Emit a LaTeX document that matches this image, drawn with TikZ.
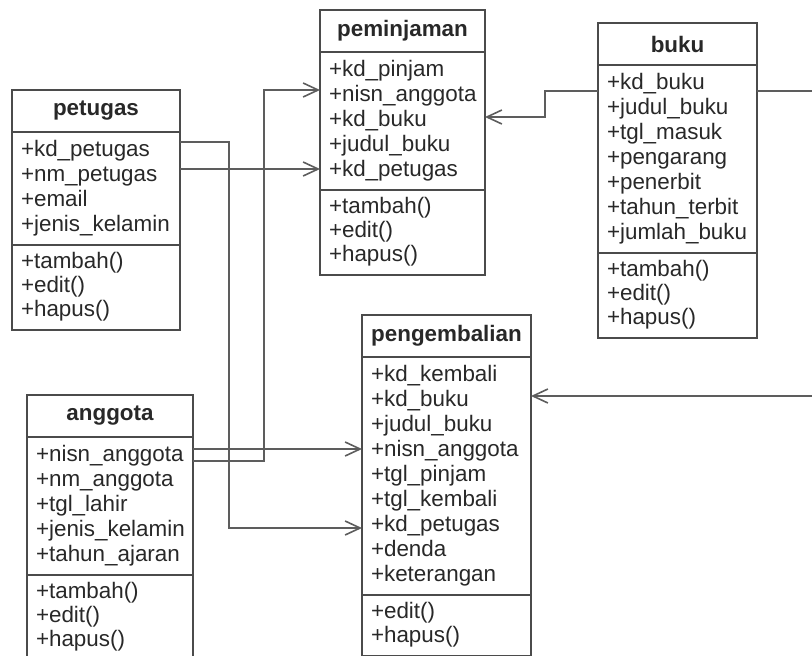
\documentclass[tikz,border=0pt]{standalone}
\usepackage{fontspec}
\setmainfont{Liberation Sans}
\usetikzlibrary{arrows.meta,calc}

\definecolor{umlline}{RGB}{75,75,75}
\definecolor{umltext}{RGB}{40,40,40}

\tikzset{
  clsbox/.style={draw=umlline,line width=1.9pt,outer sep=0pt,text=umltext,inner xsep=9pt,
    font=\fontsize{22.4}{25}\selectfont},
  clstitle/.style={clsbox,minimum height=42pt,inner ysep=0pt,font=\fontsize{22.4}{25}\selectfont\bfseries},
  clsbody/.style={clsbox,inner ysep=6.5pt,align=left,
    execute at begin node=\strut,execute at end node=\strut},
  clsops/.style={clsbody,font=\fontsize{22.4}{24}\selectfont},
  assoc/.style={draw=umlline!90,line width=1.8pt,
    -{Straight Barb[length=15pt,width=14pt,line width=1.6pt]}},
}

% class box: name, position, width, title, attributes, operations
\newcommand{\umlclass}[6]{%
  \node[clstitle,minimum width=#3,anchor=north west] (#1) at (#2) {#4};
  \node[clsbody,minimum width=#3,text width=#3-18pt,anchor=north] (#1-attr) at (#1.south) {#5};
  \node[clsops,minimum width=#3,text width=#3-18pt,anchor=north] (#1-ops) at (#1-attr.south) {#6};
}

\begin{document}
\begin{tikzpicture}[x=1pt,y=-1pt]
    \useasboundingbox (0,0) rectangle (812,656);
    \umlclass{petugas}{12,90}{168pt}{petugas}
      {+kd\_petugas\\+nm\_petugas\\+email\\+jenis\_kelamin}
      {+tambah()\\+edit()\\+hapus()}
    \umlclass{peminjaman}{320,10}{165pt}{peminjaman}
      {+kd\_pinjam\\+nisn\_anggota\\+kd\_buku\\+judul\_buku\\+kd\_petugas}
      {+tambah()\\+edit()\\+hapus()}
    \umlclass{buku}{598,23}{159pt}{buku}
      {+kd\_buku\\+judul\_buku\\+tgl\_masuk\\+pengarang\\+penerbit\\+tahun\_terbit\\+jumlah\_buku}
      {+tambah()\\+edit()\\+hapus()}
    \umlclass{anggota}{27,395}{166pt}{anggota}
      {+nisn\_anggota\\+nm\_anggota\\+tgl\_lahir\\+jenis\_kelamin\\+tahun\_ajaran}
      {+tambah()\\+edit()\\+hapus()}
    \umlclass{pengembalian}{362,315}{169pt}{pengembalian}
      {+kd\_kembali\\+kd\_buku\\+judul\_buku\\+nisn\_anggota\\+tgl\_pinjam\\+tgl\_kembali\\+kd\_petugas\\+denda\\+keterangan}
      {+edit()\\+hapus()}
    % ends of the connectors
    \coordinate (ptg1) at ([yshift=-10pt]petugas-attr.north east);
    \coordinate (ptg2) at ([yshift=-37pt]petugas-attr.north east);
    \coordinate (agt1) at ([yshift=-12pt]anggota-attr.north east);
    \coordinate (agt2) at ([yshift=-24pt]anggota-attr.north east);
    \coordinate (bkl) at ([yshift=-26pt]buku-attr.north west);
    \coordinate (bkr) at ([yshift=-26pt]buku-attr.north east);
    \coordinate (pmj1) at ([yshift=-38pt]peminjaman-attr.north west);
    \coordinate (pmj2) at ([yshift=-65pt]peminjaman-attr.north east);
    \coordinate (pgb1) at ([yshift=-171pt]pengembalian-attr.north west);
    \coordinate (pgb2) at ([yshift=-39pt]pengembalian-attr.north east);
    \draw[assoc] (ptg1) -- ++(49,0) |- (pgb1);
    \draw[assoc] (ptg2) -- (ptg2 -| peminjaman-attr.west);
    \draw[assoc] (agt1) -- (agt1 -| pengembalian-attr.west);
    \draw[assoc] (agt2) -- ++(71,0) |- (pmj1);
    \draw[assoc] (bkl) -- ++(-53,0) |- (pmj2);
    \draw[assoc] (bkr) -- ++(60,0) |- (pgb2);
\end{tikzpicture}
\end{document}
